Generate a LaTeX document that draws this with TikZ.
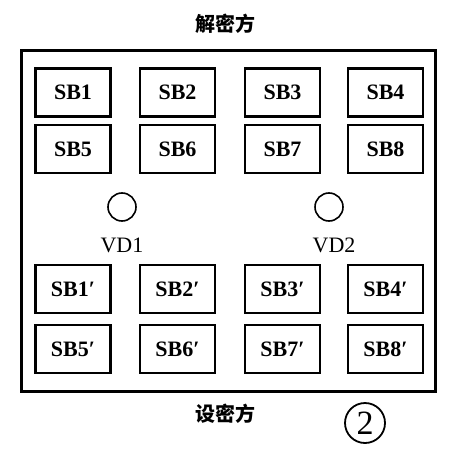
\documentclass[tikz,border=0pt]{standalone}
\usepackage{fontspec}
\setmainfont{Liberation Serif}
\newfontfamily\cjk{Noto Sans CJK SC}
\begin{document}
\begin{tikzpicture}[x=1pt,y=-1pt,
  keybox/.style={draw,line width=2.2pt,minimum width=75pt,minimum height=48pt,inner sep=0pt,font=\fontsize{22}{22}\selectfont\bfseries},
  lamp/.style={draw,circle,line width=1.6pt,minimum size=28pt,inner sep=0pt},
  lbl/.style={font=\fontsize{22}{22}\selectfont},
  cjklbl/.style={font=\cjk\bfseries\fontsize{20}{20}\selectfont}]
\useasboundingbox (0,0) rectangle (461,462);
\node[draw,line width=2.4pt,minimum width=414pt,minimum height=341pt,inner sep=0pt] (frame) at (228.5,221) {};
\node[cjklbl] (top) at (225,24) {解密方};
\node[cjklbl] (bot) at (225,414) {设密方};
% rows
\foreach \i/\x in {1/73,2/177.5,3/282.5,4/385.5}{
  \node[keybox] (sb\i) at (\x,92.5) {SB\i};
}
\foreach \i/\x in {5/73,6/177.5,7/282.5,8/385.5}{
  \node[keybox] (sb\i) at (\x,149) {SB\i};
}
\foreach \i/\x in {1/73,2/177.5,3/282.5,4/385.5}{
  \node[keybox] (sbp\i) at (\x,289) {SB\i′};
}
\foreach \i/\x in {5/73,6/177.5,7/282.5,8/385.5}{
  \node[keybox] (sbp\i) at (\x,349) {SB\i′};
}
\node[lamp] (vd1) at (122,207) {};
\node[lamp] (vd2) at (329,207) {};
\node[lbl] (vd1l) at (122,245) {VD1};
\node[lbl] (vd2l) at (334,245) {VD2};
\node[draw,circle,line width=1.8pt,minimum size=40pt,inner sep=0pt,font=\fontsize{34}{34}\selectfont] (num) at (365,423) {2};
\end{tikzpicture}
\end{document}
